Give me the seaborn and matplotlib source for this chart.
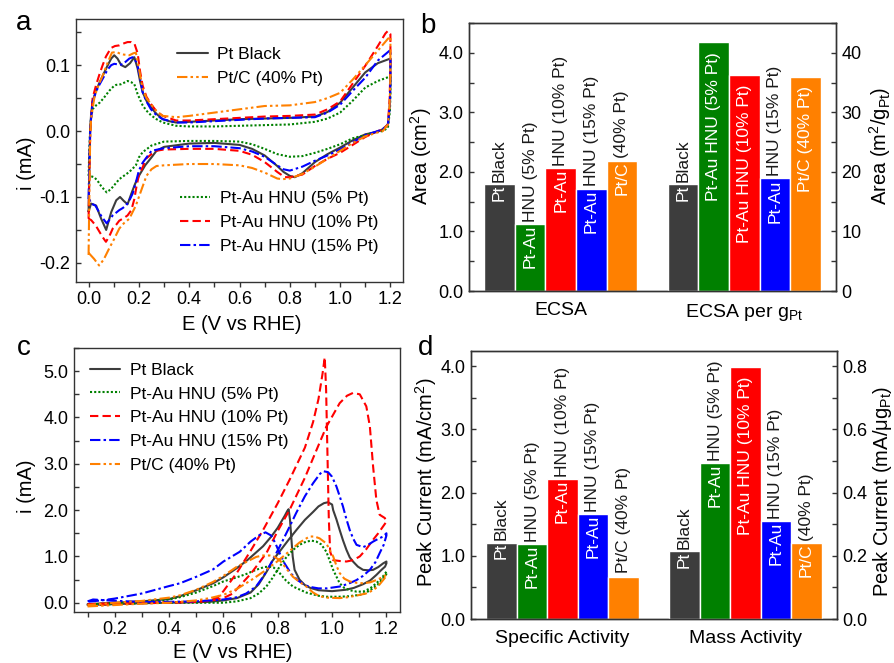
import numpy as np
import pandas as pd
import matplotlib
matplotlib.use("Agg")
import matplotlib.pyplot as plt
from matplotlib.ticker import MultipleLocator, FormatStrFormatter
import seaborn as sns

# ---------------- common ----------------
samples = ["Pt Black", "Pt-Au HNU (5% Pt)", "Pt-Au HNU (10% Pt)", "Pt-Au HNU (15% Pt)", "Pt/C (40% Pt)"]
colors = ["#3d3d3d", "#008000", "#ff0000", "#0000ff", "#ff8000"]
line_styles = ["-", (0, (1, 1)), (0, (4, 2)), (0, (5, 1.5, 1.2, 1.5)), (0, (5, 1.5, 1.2, 1.5, 1.2, 1.5))]

# ---------------- panel a : CV loops (E in V, i in mA) ----------------
a_black_E = [0.0, 0.003, 0.006, 0.01, 0.016, 0.03, 0.044, 0.06, 0.075, 0.09, 0.102, 0.115, 0.13, 0.146, 0.165, 0.182, 0.195, 0.205, 0.215, 0.23, 0.248, 0.27, 0.295, 0.32, 0.348, 0.4, 0.5, 0.6, 0.7, 0.8, 0.9, 0.95, 1.0, 1.05, 1.1, 1.15, 1.2,
             1.2, 1.198, 1.19, 1.17, 1.15, 1.1, 1.05, 1.0, 0.95, 0.9, 0.85, 0.82, 0.8, 0.775, 0.75, 0.7, 0.65, 0.6, 0.5, 0.4, 0.3, 0.27, 0.25, 0.225, 0.2, 0.185, 0.17, 0.155, 0.14, 0.125, 0.11, 0.09, 0.07, 0.05, 0.03, 0.01, 0.0]
a_black_i = [-0.122, -0.06, 0.0, 0.025, 0.045, 0.062, 0.074, 0.087, 0.099, 0.11, 0.115, 0.11, 0.1, 0.097, 0.103, 0.112, 0.095, 0.075, 0.059, 0.046, 0.036, 0.026, 0.018, 0.015, 0.013, 0.014, 0.016, 0.018, 0.019, 0.02, 0.022, 0.029, 0.043, 0.066, 0.089, 0.103, 0.11,
             0.08, 0.04, 0.01, 0.003, -0.001, -0.005, -0.014, -0.025, -0.035, -0.047, -0.064, -0.07, -0.068, -0.062, -0.053, -0.037, -0.027, -0.021, -0.018, -0.019, -0.024, -0.03, -0.04, -0.052, -0.068, -0.08, -0.095, -0.111, -0.106, -0.1, -0.105, -0.123, -0.15, -0.133, -0.113, -0.11, -0.122]

a_g5_E = [0.0, 0.003, 0.006, 0.01, 0.016, 0.03, 0.044, 0.06, 0.082, 0.1, 0.109, 0.129, 0.145, 0.155, 0.17, 0.182, 0.195, 0.215, 0.23, 0.248, 0.27, 0.295, 0.348, 0.4, 0.5, 0.6, 0.7, 0.8, 0.9, 0.95, 1.0, 1.05, 1.1, 1.15, 1.2,
          1.2, 1.198, 1.19, 1.17, 1.15, 1.1, 1.05, 1.0, 0.95, 0.9, 0.85, 0.8, 0.75, 0.7, 0.65, 0.6, 0.5, 0.4, 0.3, 0.25, 0.215, 0.2, 0.188, 0.162, 0.14, 0.122, 0.1, 0.089, 0.072, 0.06, 0.049, 0.035, 0.022, 0.005, 0.0]
a_g5_i = [-0.068, -0.03, 0.0, 0.02, 0.033, 0.039, 0.043, 0.05, 0.061, 0.068, 0.07, 0.071, 0.074, 0.076, 0.074, 0.071, 0.056, 0.039, 0.031, 0.024, 0.018, 0.013, 0.008, 0.007, 0.007, 0.008, 0.009, 0.01, 0.014, 0.019, 0.028, 0.046, 0.066, 0.076, 0.083,
          0.06, 0.03, 0.005, 0.0, -0.001, -0.006, -0.011, -0.02, -0.027, -0.033, -0.038, -0.039, -0.035, -0.027, -0.02, -0.016, -0.015, -0.015, -0.016, -0.022, -0.032, -0.04, -0.052, -0.062, -0.068, -0.073, -0.083, -0.088, -0.093, -0.088, -0.083, -0.075, -0.07, -0.068, -0.068]

a_r10_E = [0.0, 0.003, 0.006, 0.01, 0.016, 0.03, 0.044, 0.056, 0.069, 0.089, 0.105, 0.122, 0.14, 0.155, 0.17, 0.182, 0.195, 0.205, 0.215, 0.23, 0.248, 0.27, 0.295, 0.348, 0.4, 0.5, 0.6, 0.7, 0.8, 0.9, 0.95, 1.0, 1.05, 1.1, 1.15, 1.18, 1.19, 1.2,
           1.2, 1.197, 1.19, 1.17, 1.15, 1.1, 1.05, 1.0, 0.95, 0.9, 0.85, 0.8, 0.78, 0.75, 0.7, 0.65, 0.6, 0.5, 0.4, 0.3, 0.268, 0.25, 0.228, 0.215, 0.2, 0.19, 0.182, 0.17, 0.155, 0.14, 0.122, 0.11, 0.096, 0.082, 0.069, 0.056, 0.042, 0.028, 0.01, 0.0]
a_r10_i = [-0.133, -0.07, -0.01, 0.02, 0.05, 0.07, 0.087, 0.1, 0.113, 0.126, 0.129, 0.13, 0.133, 0.135, 0.135, 0.133, 0.118, 0.09, 0.069, 0.052, 0.041, 0.03, 0.023, 0.016, 0.016, 0.018, 0.02, 0.022, 0.023, 0.025, 0.033, 0.045, 0.072, 0.099, 0.129, 0.148, 0.152, 0.147,
           0.1, 0.05, 0.01, 0.002, 0.0, -0.009, -0.021, -0.033, -0.042, -0.053, -0.066, -0.07, -0.07, -0.062, -0.047, -0.036, -0.03, -0.027, -0.027, -0.028, -0.03, -0.035, -0.042, -0.055, -0.067, -0.085, -0.103, -0.12, -0.128, -0.132, -0.136, -0.142, -0.148, -0.16, -0.168, -0.161, -0.152, -0.143, -0.135, -0.133]

a_b15_E = [0.0, 0.003, 0.006, 0.01, 0.016, 0.03, 0.044, 0.06, 0.075, 0.09, 0.102, 0.12, 0.135, 0.15, 0.162, 0.175, 0.182, 0.195, 0.205, 0.215, 0.23, 0.248, 0.27, 0.295, 0.348, 0.4, 0.5, 0.6, 0.7, 0.8, 0.9, 0.95, 1.0, 1.05, 1.1, 1.15, 1.2,
           1.2, 1.198, 1.19, 1.17, 1.15, 1.1, 1.05, 1.0, 0.95, 0.9, 0.85, 0.8, 0.775, 0.75, 0.7, 0.65, 0.6, 0.5, 0.4, 0.3, 0.25, 0.215, 0.2, 0.188, 0.175, 0.165, 0.149, 0.135, 0.122, 0.096, 0.072, 0.06, 0.049, 0.027, 0.01, 0.003, 0.0]
a_b15_i = [-0.103, -0.05, -0.005, 0.02, 0.044, 0.06, 0.071, 0.082, 0.093, 0.1, 0.102, 0.101, 0.101, 0.106, 0.11, 0.112, 0.111, 0.099, 0.08, 0.059, 0.045, 0.033, 0.024, 0.018, 0.013, 0.013, 0.015, 0.017, 0.019, 0.02, 0.021, 0.028, 0.04, 0.061, 0.081, 0.107, 0.123,
           0.08, 0.04, 0.01, 0.003, 0.0, -0.006, -0.017, -0.028, -0.037, -0.045, -0.054, -0.06, -0.058, -0.052, -0.039, -0.031, -0.026, -0.023, -0.023, -0.026, -0.03, -0.048, -0.06, -0.078, -0.095, -0.103, -0.113, -0.117, -0.12, -0.128, -0.14, -0.134, -0.128, -0.113, -0.11, -0.103, -0.103]

a_ptc_E = [0.0, 0.003, 0.006, 0.01, 0.024, 0.04, 0.056, 0.075, 0.093, 0.11, 0.122, 0.14, 0.162, 0.178, 0.188, 0.2, 0.215, 0.23, 0.248, 0.27, 0.295, 0.35, 0.4, 0.5, 0.6, 0.7, 0.8, 0.9, 0.95, 1.0, 1.05, 1.1, 1.15, 1.19, 1.2,
           1.2, 1.197, 1.19, 1.17, 1.15, 1.1, 1.05, 1.0, 0.95, 0.9, 0.85, 0.8, 0.77, 0.75, 0.7, 0.65, 0.6, 0.5, 0.4, 0.35, 0.3, 0.27, 0.25, 0.23, 0.215, 0.2, 0.188, 0.162, 0.14, 0.122, 0.1, 0.082, 0.06, 0.042, 0.022, 0.003, 0.0]
a_ptc_i = [-0.188, -0.1, -0.02, 0.02, 0.053, 0.07, 0.084, 0.103, 0.119, 0.12, 0.118, 0.116, 0.115, 0.118, 0.119, 0.095, 0.064, 0.05, 0.041, 0.03, 0.023, 0.021, 0.023, 0.028, 0.033, 0.038, 0.039, 0.044, 0.05, 0.058, 0.078, 0.1, 0.122, 0.14, 0.143,
           0.09, 0.04, 0.01, 0.0, -0.002, -0.008, -0.018, -0.03, -0.042, -0.054, -0.065, -0.072, -0.073, -0.072, -0.063, -0.056, -0.052, -0.05, -0.05, -0.051, -0.052, -0.053, -0.058, -0.068, -0.084, -0.1, -0.113, -0.133, -0.14, -0.148, -0.165, -0.178, -0.195, -0.204, -0.194, -0.186, -0.188]

# ---------------- panel c : methanol oxidation scans ----------------
c_black_E = [0.1, 0.15, 0.2, 0.3, 0.4, 0.5, 0.55, 0.6, 0.65, 0.7, 0.73, 0.76, 0.78, 0.81, 0.84, 0.87, 0.9, 0.93, 0.95, 0.97, 0.985, 1.0, 1.004, 1.016, 1.028, 1.04, 1.053, 1.065, 1.077, 1.095, 1.114, 1.135, 1.151, 1.17, 1.188, 1.2,
             1.2, 1.195, 1.18, 1.163, 1.14, 1.114, 1.08, 1.05, 1.0, 0.95, 0.92, 0.9, 0.88, 0.862, 0.855, 0.85, 0.845, 0.84, 0.835, 0.826, 0.8, 0.775, 0.746, 0.7, 0.684, 0.65, 0.6, 0.562, 0.5, 0.44, 0.4, 0.3, 0.2, 0.1]
c_black_i = [-0.05, -0.04, -0.03, -0.01, 0.0, 0.01, 0.02, 0.05, 0.1, 0.22, 0.4, 0.68, 0.9, 1.13, 1.36, 1.58, 1.79, 1.96, 2.08, 2.15, 2.17, 2.12, 2.0, 1.8, 1.57, 1.35, 1.14, 0.98, 0.89, 0.78, 0.71, 0.7, 0.71, 0.77, 0.85, 0.89,
             0.85, 0.78, 0.7, 0.6, 0.48, 0.4, 0.32, 0.28, 0.25, 0.27, 0.32, 0.38, 0.5, 0.71, 1.0, 1.4, 1.8, 2.02, 1.98, 1.88, 1.62, 1.42, 1.22, 0.98, 0.9, 0.75, 0.55, 0.42, 0.27, 0.14, 0.08, 0.03, 0.0, -0.03]

c_g5_E = [0.1, 0.2, 0.3, 0.4, 0.5, 0.6, 0.65, 0.7, 0.73, 0.758, 0.78, 0.807, 0.83, 0.856, 0.88, 0.905, 0.925, 0.942, 0.96, 0.979, 1.004, 1.028, 1.045, 1.065, 1.09, 1.114, 1.14, 1.163, 1.185, 1.2,
          1.2, 1.188, 1.17, 1.151, 1.12, 1.102, 1.06, 1.028, 0.98, 0.95, 0.905, 0.856, 0.83, 0.807, 0.785, 0.768, 0.75, 0.72, 0.684, 0.65, 0.6, 0.562, 0.5, 0.44, 0.4, 0.3, 0.2, 0.1]
c_g5_i = [-0.05, -0.03, -0.01, 0.0, 0.0, 0.0, 0.03, 0.1, 0.2, 0.35, 0.53, 0.78, 0.97, 1.14, 1.25, 1.32, 1.34, 1.32, 1.26, 1.1, 0.71, 0.42, 0.32, 0.27, 0.24, 0.24, 0.31, 0.42, 0.55, 0.67,
          0.62, 0.53, 0.4, 0.31, 0.2, 0.17, 0.14, 0.13, 0.13, 0.15, 0.22, 0.35, 0.48, 0.64, 0.76, 0.78, 0.77, 0.71, 0.62, 0.55, 0.46, 0.36, 0.22, 0.12, 0.07, 0.02, -0.01, -0.04]

c_r10_E = [0.1, 0.2, 0.3, 0.4, 0.5, 0.55, 0.6, 0.635, 0.65, 0.7, 0.758, 0.8, 0.844, 0.9, 0.95, 0.979, 1.028, 1.055, 1.077, 1.102, 1.126, 1.139, 1.151, 1.163, 1.175, 1.194, 1.2,
           1.2, 1.188, 1.17, 1.151, 1.125, 1.102, 1.078, 1.053, 1.03, 1.004, 0.993, 0.988, 0.983, 0.978, 0.973, 0.965, 0.95, 0.93, 0.9, 0.844, 0.8, 0.746, 0.7, 0.65, 0.6, 0.58, 0.55, 0.5, 0.4, 0.3, 0.2, 0.1]
c_r10_i = [-0.05, -0.03, -0.01, 0.0, 0.02, 0.04, 0.1, 0.2, 0.3, 0.62, 1.07, 1.55, 2.01, 2.7, 3.4, 3.8, 4.31, 4.47, 4.53, 4.5, 4.24, 3.81, 2.94, 2.22, 1.9, 1.83, 1.75,
           1.75, 1.65, 1.5, 1.36, 1.15, 1.0, 0.92, 0.89, 0.9, 0.92, 1.1, 1.8, 3.2, 4.6, 5.3, 4.95, 4.4, 3.9, 3.35, 2.66, 2.15, 1.57, 1.12, 0.65, 0.25, 0.12, 0.05, 0.02, 0.01, 0.0, -0.01, -0.03]

c_b15_E = [0.1, 0.12, 0.15, 0.2, 0.3, 0.4, 0.5, 0.55, 0.6, 0.65, 0.684, 0.72, 0.746, 0.775, 0.807, 0.84, 0.868, 0.9, 0.93, 0.955, 0.967, 0.985, 1.0, 1.016, 1.028, 1.04, 1.053, 1.065, 1.078, 1.09, 1.114, 1.13, 1.151, 1.17, 1.188, 1.2,
           1.2, 1.19, 1.175, 1.16, 1.139, 1.114, 1.09, 1.06, 1.028, 0.98, 0.95, 0.92, 0.9, 0.875, 0.85, 0.825, 0.807, 0.79, 0.776, 0.755, 0.73, 0.7, 0.66, 0.6, 0.562, 0.5, 0.44, 0.4, 0.3, 0.2, 0.15, 0.1]
c_b15_i = [0.03, 0.07, 0.06, 0.04, 0.02, 0.02, 0.03, 0.05, 0.07, 0.12, 0.2, 0.35, 0.56, 0.85, 1.21, 1.6, 1.94, 2.3, 2.58, 2.78, 2.84, 2.82, 2.72, 2.51, 2.3, 2.08, 1.8, 1.57, 1.38, 1.25, 1.2, 1.24, 1.32, 1.38, 1.43, 1.5,
           1.45, 1.25, 1.07, 0.88, 0.71, 0.58, 0.49, 0.41, 0.35, 0.31, 0.31, 0.34, 0.38, 0.48, 0.62, 0.85, 1.07, 1.3, 1.45, 1.52, 1.45, 1.32, 1.1, 0.89, 0.72, 0.56, 0.42, 0.36, 0.2, 0.09, 0.05, 0.02]

c_ptc_E = [0.1, 0.2, 0.3, 0.4, 0.5, 0.55, 0.6, 0.65, 0.7, 0.75, 0.8, 0.85, 0.88, 0.9, 0.917, 0.935, 0.954, 0.979, 0.991, 1.004, 1.016, 1.028, 1.045, 1.065, 1.09, 1.114, 1.14, 1.163, 1.185, 1.2,
           1.2, 1.188, 1.17, 1.151, 1.125, 1.102, 1.06, 1.028, 0.98, 0.954, 0.93, 0.905, 0.88, 0.856, 0.83, 0.807, 0.785, 0.77, 0.745, 0.721, 0.684, 0.65, 0.6, 0.562, 0.5, 0.44, 0.4, 0.3, 0.2, 0.1]
c_ptc_i = [-0.08, -0.05, -0.02, 0.0, 0.05, 0.1, 0.17, 0.3, 0.48, 0.68, 0.9, 1.15, 1.3, 1.37, 1.43, 1.43, 1.39, 1.28, 1.14, 1.0, 0.8, 0.64, 0.52, 0.46, 0.43, 0.42, 0.44, 0.49, 0.55, 0.6,
           0.58, 0.49, 0.36, 0.27, 0.2, 0.17, 0.12, 0.1, 0.11, 0.14, 0.22, 0.35, 0.45, 0.56, 0.75, 0.92, 1.0, 1.02, 1.02, 0.99, 0.88, 0.78, 0.58, 0.45, 0.28, 0.16, 0.11, 0.04, 0.0, -0.05]

# ---------------- panel b / d : bar values ----------------
groups_b = ["ECSA", "ECSA per gPt"]
ecsa_area = [1.80, 1.13, 2.07, 1.72, 2.19]          # cm2 (left axis)
ecsa_per_gpt = [18.0, 41.8, 36.3, 18.9, 36.0]       # m2/gPt (right axis)
groups_d = ["Specific Activity", "Mass Activity"]
specific_activity = [1.21, 1.18, 2.21, 1.66, 0.66]  # mA/cm2 (left axis)
mass_activity = [0.216, 0.494, 0.797, 0.311, 0.240]  # mA/ugPt (right axis)

b_in_1 = ["Pt", "Pt-Au", "Pt-Au", "Pt-Au", "Pt/C"]
b_out_1 = ["Black", "HNU (5% Pt)", "HNU (10% Pt)", "HNU (15% Pt)", "(40% Pt)"]
b_in_2 = ["Pt", "Pt-Au HNU (5% Pt)", "Pt-Au HNU (10% Pt)", "Pt-Au", "Pt/C (40% Pt)"]
b_out_2 = ["Black", "", "", "HNU (15% Pt)", ""]
d_in_1 = ["Pt", "Pt-Au", "Pt-Au", "Pt-Au", ""]
d_out_1 = ["Black", "HNU (5% Pt)", "HNU (10% Pt)", "HNU (15% Pt)", "Pt/C (40% Pt)"]
d_in_2 = ["Pt", "Pt-Au", "Pt-Au HNU (10% Pt)", "Pt-Au", "Pt/C"]
d_out_2 = ["Black", "HNU (5% Pt)", "", "HNU (15% Pt)", "(40% Pt)"]

# ---------------- style ----------------
sns.set_theme(style="ticks")
plt.rcParams.update({
    "font.family": ["Liberation Sans", "DejaVu Sans"],
    "mathtext.fontset": "custom",
    "mathtext.rm": "Liberation Sans",
    "mathtext.it": "Liberation Sans:italic",
    "mathtext.bf": "Liberation Sans:bold",
    "axes.unicode_minus": False,
    "axes.edgecolor": "#333333",
    "axes.linewidth": 1.0,
    "xtick.color": "#333333",
    "ytick.color": "#333333",
    "xtick.labelcolor": "black",
    "ytick.labelcolor": "black",
    "text.color": "black",
})

W, H = 894, 663
fig = plt.figure(figsize=(W / 100, H / 100), dpi=100)


def box(l, t, r, b):
    return [l / W, 1 - b / H, (r - l) / W, (b - t) / H]


axa = fig.add_axes(box(76, 19, 403, 282))
axb = fig.add_axes(box(469, 23, 836, 291))
axc = fig.add_axes(box(74, 348, 400, 612))
axd = fig.add_axes(box(471, 351, 837, 619))

TICK_FS = 13
LAB_FS = 14.5
LEG_FS = 12.5


def line_panel(ax, series, xlim, ylim, xmaj, xmin, ymaj, ymin):
    handles = {}
    for (name, E, I), col, ls in zip(series, colors, line_styles):
        df = pd.DataFrame({"E": E, "i": I})
        sns.lineplot(data=df, x="E", y="i", sort=False, estimator=None, color=col,
                     linestyle=ls, lw=1.5, ax=ax, legend=False)
        handles[name] = ax.get_lines()[-1]
    ax.set_xlim(*xlim)
    ax.set_ylim(*ylim)
    ax.xaxis.set_major_locator(MultipleLocator(xmaj))
    ax.xaxis.set_minor_locator(MultipleLocator(xmin))
    ax.yaxis.set_major_locator(MultipleLocator(ymaj))
    ax.yaxis.set_minor_locator(MultipleLocator(ymin))
    ax.xaxis.set_major_formatter(FormatStrFormatter("%.1f"))
    ax.yaxis.set_major_formatter(FormatStrFormatter("%.1f"))
    ax.tick_params(axis="x", which="both", direction="out", length=3.5, width=1, labelsize=TICK_FS, pad=3)
    ax.tick_params(axis="y", which="both", direction="in", length=3.5, width=1, labelsize=TICK_FS, pad=4)
    ax.set_xlabel("")
    ax.set_ylabel("")
    for s in ax.spines.values():
        s.set_visible(True)
    return handles


# ---------------- panel a ----------------
ha = line_panel(axa, [(samples[0], a_black_E, a_black_i), (samples[1], a_g5_E, a_g5_i),
                      (samples[2], a_r10_E, a_r10_i), (samples[3], a_b15_E, a_b15_i),
                      (samples[4], a_ptc_E, a_ptc_i)],
                (-0.05, 1.25), (-0.229, 0.17), 0.2, 0.1, 0.1, 0.05)
leg_kw = dict(loc="upper left", frameon=False, fontsize=LEG_FS, handlelength=1.75,
              handletextpad=0.55, labelspacing=0.5, borderaxespad=0, borderpad=0)
leg1 = axa.legend([ha[samples[0]], ha[samples[4]]], [samples[0], samples[4]],
                  bbox_to_anchor=(0.31, 0.895), **leg_kw)
axa.add_artist(leg1)
axa.legend([ha[samples[1]], ha[samples[2]], ha[samples[3]]], samples[1:4],
           bbox_to_anchor=(0.318, 0.345), **leg_kw)

# ---------------- panel c ----------------
hc = line_panel(axc, [(samples[0], c_black_E, c_black_i), (samples[1], c_g5_E, c_g5_i),
                      (samples[2], c_r10_E, c_r10_i), (samples[3], c_b15_E, c_b15_i),
                      (samples[4], c_ptc_E, c_ptc_i)],
                (0.05, 1.25), (-0.2, 5.5), 0.2, 0.1, 1.0, 0.5)
axc.legend([hc[s] for s in samples], samples, bbox_to_anchor=(0.049, 0.945), **leg_kw)


# ---------------- bar panels ----------------
def bar_panel(ax, groups, left_vals, right_vals, right_lim, left_lim,
              lmaj, lmin, rmaj, rmin, rfmt, in1, out1, in2, out2, xlabels):
    pal = dict(zip(samples, colors))
    dfl = pd.DataFrame({"group": groups[0], "sample": samples, "value": left_vals})
    dfr = pd.DataFrame({"group": groups[1], "sample": samples, "value": right_vals})
    common = dict(x="group", y="value", hue="sample", order=groups, hue_order=samples,
                  palette=pal, saturation=1, width=0.833, errorbar=None, legend=False,
                  edgecolor="white", linewidth=1.0)
    sns.barplot(data=dfl, ax=ax, **common)
    ax2 = ax.twinx()
    sns.barplot(data=dfr, ax=ax2, **common)
    ax.set_xlim(-0.5, 1.5)
    ax.set_ylim(*left_lim)
    ax2.set_ylim(*right_lim)
    ax.yaxis.set_major_locator(MultipleLocator(lmaj))
    ax.yaxis.set_minor_locator(MultipleLocator(lmin))
    ax.yaxis.set_major_formatter(FormatStrFormatter("%.1f"))
    ax2.yaxis.set_major_locator(MultipleLocator(rmaj))
    ax2.yaxis.set_minor_locator(MultipleLocator(rmin))
    ax2.yaxis.set_major_formatter(FormatStrFormatter(rfmt))
    ax.tick_params(axis="y", which="both", direction="in", length=3.5, width=1,
                   labelsize=TICK_FS, pad=4, left=True, right=False)
    ax2.tick_params(axis="y", which="both", direction="in", length=3.5, width=1,
                    labelsize=TICK_FS, pad=4, left=False, right=True)
    ax.set_xticks([0, 1])
    ax.set_xticklabels(xlabels, fontsize=14)
    ax.tick_params(axis="x", length=0, pad=8)
    for a in (ax, ax2):
        a.set_xlabel("")
        a.set_ylabel("")
        for s in a.spines.values():
            s.set_visible(True)

    for a, ins, outs in ((ax, in1, out1), (ax2, in2, out2)):
        bars = sorted([p for p in a.patches if p.get_height() > 0], key=lambda p: p.get_x())
        for p, tin, tout in zip(bars, ins, outs):
            cx = p.get_x() + p.get_width() / 2
            top = p.get_height()
            if tin:
                a.annotate(tin, xy=(cx, top), xytext=(0, -0.5 if tout else -7),
                           textcoords="offset points", rotation=90, ha="center", va="top",
                           fontsize=LEG_FS, color="white")
            if tout:
                a.annotate(tout, xy=(cx, top), xytext=(0, 1.5 if tin else 3),
                           textcoords="offset points", rotation=90, ha="center", va="bottom",
                           fontsize=LEG_FS, color="#1a1a1a")
    return ax2


bar_panel(axb, groups_b, ecsa_area, ecsa_per_gpt, (0, 45), (0, 4.5), 1.0, 0.5, 10, 5, "%d",
          b_in_1, b_out_1, b_in_2, b_out_2, ["ECSA", "ECSA per g$_{\\mathrm{Pt}}$"])
bar_panel(axd, groups_d, specific_activity, mass_activity, (0, 0.848), (0, 4.24), 1.0, 0.5, 0.2, 0.1, "%.1f",
          d_in_1, d_out_1, d_in_2, d_out_2, groups_d)

# ---------------- labels ----------------
def ftext(x, y, s, **kw):
    fig.text(x / W, 1 - y / H, s, **kw)


ftext(26, 163, "i (mA)", rotation=90, ha="center", va="center", fontsize=LAB_FS)
ftext(242, 324, "E (V vs RHE)", ha="center", va="center", fontsize=LAB_FS)
ftext(421, 156, "Area (cm$^{2}$)", rotation=90, ha="center", va="center", fontsize=LAB_FS)
ftext(880, 146, "Area (m$^{2}$/g$_{\\mathrm{Pt}}$)", rotation=90, ha="center", va="center", fontsize=LAB_FS)
ftext(26, 486, "i (mA)", rotation=90, ha="center", va="center", fontsize=LAB_FS)
ftext(233, 652, "E (V vs RHE)", ha="center", va="center", fontsize=LAB_FS)
ftext(426, 482, "Peak Current (mA/cm$^{2}$)", rotation=90, ha="center", va="center", fontsize=LAB_FS)
ftext(882, 492, "Peak Current (mA/\u03bcg$_{\\mathrm{Pt}}$)", rotation=90, ha="center", va="center", fontsize=LAB_FS)

for lx, ly, letter in ((23.5, 30, "a"), (428, 33, "b"), (23.5, 355, "c"), (426, 355, "d")):
    ftext(lx, ly, letter, ha="center", va="baseline", fontsize=20)

fig.savefig("out.png", dpi=100)
